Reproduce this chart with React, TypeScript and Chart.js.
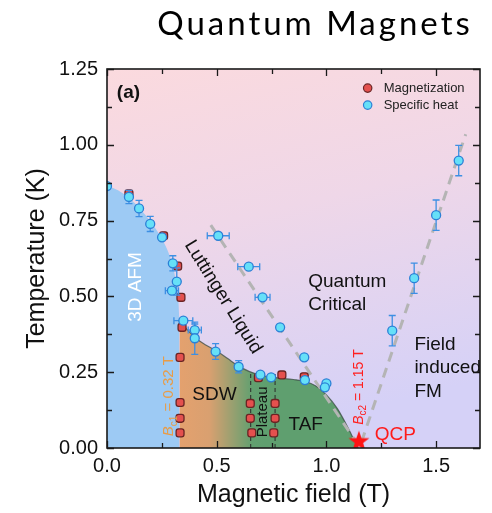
import React, { useEffect, useRef } from "react";
import { Chart, registerables } from "chart.js";

Chart.register(...registerables);

const FONT = "'Liberation Sans', Arial, Helvetica, sans-serif";
const TITLE_FONT = "Lato, 'Open Sans', sans-serif";

// ---------------- data ----------------
// Specific heat (cyan) points with error bars
const specificHeatX = [0.0, 0.10, 0.146, 0.197, 0.251, 0.30, 0.318, 0.296, 0.348, 0.40, 0.40, 0.495, 0.60, 0.699, 0.748, 0.507, 0.646, 0.709, 0.789, 0.899, 0.902, 1.0, 0.993, 1.30, 1.40, 1.50, 1.603];
const specificHeatY = [0.864, 0.828, 0.79, 0.739, 0.695, 0.609, 0.549, 0.519, 0.42, 0.389, 0.362, 0.318, 0.268, 0.242, 0.233, 0.70, 0.598, 0.497, 0.398, 0.299, 0.224, 0.213, 0.20, 0.387, 0.56, 0.768, 0.948];
const specificHeatXErr = [0, 0, 0, 0, 0, 0, 0, 0.03, 0.043, 0.03, 0, 0, 0, 0, 0, 0.05, 0.05, 0.034, 0.012, 0.012, 0.012, 0, 0, 0, 0, 0, 0];
const specificHeatYErr = [0, 0.022, 0.027, 0.025, 0, 0.025, 0.045, 0, 0, 0.02, 0.053, 0.026, 0.02, 0, 0, 0, 0, 0, 0, 0, 0, 0, 0, 0.05, 0.05, 0.05, 0.05];

// Magnetization (red) points
const magnetizationX = [0.10, 0.258, 0.322, 0.337, 0.342, 0.333, 0.333, 0.333, 0.333, 0.653, 0.653, 0.66, 0.766, 0.766, 0.76, 0.797, 0.899, 0.69];
const magnetizationY = [0.838, 0.70, 0.60, 0.497, 0.398, 0.299, 0.15, 0.098, 0.05, 0.147, 0.098, 0.05, 0.147, 0.098, 0.05, 0.241, 0.235, 0.232];

// Phase boundaries
const afmBoundaryX = [0, 0.05, 0.10, 0.15, 0.20, 0.25, 0.28, 0.30, 0.315, 0.325, 0.33];
const afmBoundaryY = [0.865, 0.85, 0.825, 0.79, 0.745, 0.69, 0.645, 0.60, 0.545, 0.49, 0.42];
const orderedBoundaryX = [0.33, 0.36, 0.40, 0.45, 0.50, 0.55, 0.60, 0.65, 0.70, 0.77, 0.85, 0.90, 0.95, 1.00, 1.05, 1.08, 1.11, 1.13, 1.145];
const orderedBoundaryY = [0.42, 0.395, 0.365, 0.34, 0.32, 0.295, 0.27, 0.252, 0.24, 0.232, 0.226, 0.22, 0.205, 0.175, 0.13, 0.092, 0.05, 0.02, 0];

// Crossover (gray dashed) lines
const luttingerLineX = [0.473, 1.14];
const luttingerLineY = [0.735, 0.015];
const fmLineX = [1.16, 1.635];
const fmLineY = [0.02, 1.035];

// Plateau edges (black dashed)
const plateauEdgesX = [0.655, 0.766];
const plateauTopY = 0.245;

// QCP
const qcpX = [1.148];
const qcpY = [0.021];

// Axes
const xMin = 0, xMax = 1.7, xTickStep = 0.25, xLabelStep = 0.5;
const yMin = 0, yMax = 1.25, yTickStep = 0.125, yLabelStep = 0.25;

// Annotations (data coordinates)
const annotations = [
  { text: "(a)", x: 0.045, y: 1.154, size: 19, weight: "bold", color: "#111", align: "left", baseline: "alphabetic", rot: 0 },
  { text: "3D AFM", x: 0.131, y: 0.531, size: 19, weight: "normal", color: "#ffffff", align: "center", baseline: "middle", rot: -90 },
  { text: "Luttinger Liquid", x: 0.529, y: 0.498, size: 19, weight: "normal", color: "#111", align: "center", baseline: "middle", rot: 58 },
  { text: "Quantum", x: 0.917, y: 0.531, size: 19, weight: "normal", color: "#111", align: "left", baseline: "alphabetic", rot: 0 },
  { text: "Critical", x: 0.917, y: 0.455, size: 19, weight: "normal", color: "#111", align: "left", baseline: "alphabetic", rot: 0 },
  { text: "Field", x: 1.401, y: 0.323, size: 19, weight: "normal", color: "#111", align: "left", baseline: "alphabetic", rot: 0 },
  { text: "induced", x: 1.401, y: 0.247, size: 19, weight: "normal", color: "#111", align: "left", baseline: "alphabetic", rot: 0 },
  { text: "FM", x: 1.401, y: 0.168, size: 19, weight: "normal", color: "#111", align: "left", baseline: "alphabetic", rot: 0 },
  { text: "QCP", x: 1.22, y: 0.026, size: 19, weight: "normal", color: "#ff1a1a", align: "left", baseline: "alphabetic", rot: 0 },
  { text: "SDW", x: 0.389, y: 0.158, size: 19, weight: "normal", color: "#111", align: "left", baseline: "alphabetic", rot: 0 },
  { text: "TAF", x: 0.827, y: 0.059, size: 19, weight: "normal", color: "#111", align: "left", baseline: "alphabetic", rot: 0 },
  { text: "Plateau", x: 0.712, y: 0.119, size: 15, weight: "normal", color: "#111", align: "center", baseline: "middle", rot: -90 },
];

const criticalFieldLabels = [
  { main: "B", sub: "c1", rest: " = 0.32 T", x: 0.276, y: 0.171, size: 15, color: "#e89c48" },
  { main: "B", sub: "c2", rest: " = 1.15 T", x: 1.143, y: 0.201, size: 14, color: "#ff2020" },
];

const legendItems = [
  { label: "Magnetization", x: 1.188, y: 1.187, fill: "#e4504e", stroke: "#6b2424" },
  { label: "Specific heat", x: 1.188, y: 1.131, fill: "#66e0f8", stroke: "#2b7fd6" },
];

const titleText = "Quantum Magnets";

// ---------------- helpers ----------------
const pts = (xs: number[], ys: number[]) => xs.map((x, i) => ({ x, y: ys[i] }));
const isMult = (v: number, step: number) => Math.abs(v / step - Math.round(v / step)) < 1e-6;

function makeStar(R: number, r: number, color: string) {
  const c = document.createElement("canvas");
  const s = Math.ceil(R * 2 + 2);
  c.width = s;
  c.height = s;
  const g = c.getContext("2d")!;
  g.beginPath();
  for (let i = 0; i < 10; i++) {
    const ang = -Math.PI / 2 + (i * Math.PI) / 5;
    const rad = i % 2 === 0 ? R : r;
    g.lineTo(s / 2 + rad * Math.cos(ang), s / 2 + rad * Math.sin(ang));
  }
  g.closePath();
  g.fillStyle = color;
  g.fill();
  return c;
}

const bgPlugin = {
  id: "bgGradient",
  beforeDatasetsDraw(chart: any) {
    const { ctx, chartArea: a } = chart;
    ctx.save();
    const g = ctx.createLinearGradient(a.left, a.top, a.left + 90, a.bottom);
    g.addColorStop(0, "#fbdade");
    g.addColorStop(0.45, "#efd7e8");
    g.addColorStop(1, "#d5d1f7");
    ctx.fillStyle = g;
    ctx.fillRect(a.left, a.top, a.width, a.height);
    ctx.restore();
  },
};

const errorBarPlugin = {
  id: "errorBars",
  beforeDatasetDraw(chart: any, args: any) {
    if (args.index !== 0) return;
    const { ctx, chartArea: a } = chart;
    const xs = chart.scales.x, ys = chart.scales.y;
    ctx.save();
    ctx.beginPath();
    ctx.rect(a.left, a.top, a.width, a.height);
    ctx.clip();
    ctx.strokeStyle = "#3d8fe3";
    ctx.lineWidth = 1.3;
    const cap = 3.5;
    specificHeatX.forEach((vx, i) => {
      const vy = specificHeatY[i];
      const px = xs.getPixelForValue(vx);
      const py = ys.getPixelForValue(vy);
      const ex = specificHeatXErr[i], ey = specificHeatYErr[i];
      ctx.beginPath();
      if (ey > 0) {
        const y1 = ys.getPixelForValue(vy + ey), y2 = ys.getPixelForValue(vy - ey);
        ctx.moveTo(px, y1); ctx.lineTo(px, y2);
        ctx.moveTo(px - cap, y1); ctx.lineTo(px + cap, y1);
        ctx.moveTo(px - cap, y2); ctx.lineTo(px + cap, y2);
      }
      if (ex > 0) {
        const x1 = xs.getPixelForValue(vx - ex), x2 = xs.getPixelForValue(vx + ex);
        ctx.moveTo(x1, py); ctx.lineTo(x2, py);
        ctx.moveTo(x1, py - cap); ctx.lineTo(x1, py + cap);
        ctx.moveTo(x2, py - cap); ctx.lineTo(x2, py + cap);
      }
      ctx.stroke();
    });
    ctx.restore();
  },
};

const framePlugin = {
  id: "frameTicks",
  afterDatasetsDraw(chart: any) {
    const { ctx, chartArea: a } = chart;
    const xs = chart.scales.x, ys = chart.scales.y;
    ctx.save();
    ctx.strokeStyle = "#1a1a1a";
    ctx.lineWidth = 1.3;
    ctx.beginPath();
    xs.ticks.forEach((t: any) => {
      const px = Math.round(xs.getPixelForValue(t.value)) + 0.5;
      const L = isMult(t.value, xLabelStep) ? 7 : 5;
      ctx.moveTo(px, a.bottom); ctx.lineTo(px, a.bottom - L);
      ctx.moveTo(px, a.top); ctx.lineTo(px, a.top + L);
    });
    ys.ticks.forEach((t: any) => {
      const py = Math.round(ys.getPixelForValue(t.value)) + 0.5;
      const L = isMult(t.value, yLabelStep) ? 7 : 5;
      ctx.moveTo(a.left, py); ctx.lineTo(a.left + L, py);
      ctx.moveTo(a.right, py); ctx.lineTo(a.right - L, py);
    });
    ctx.stroke();
    ctx.lineWidth = 1.6;
    ctx.strokeRect(a.left, a.top, a.width, a.height);
    ctx.restore();
  },
};

function drawSubLabel(ctx: CanvasRenderingContext2D, px: number, py: number, l: any) {
  ctx.save();
  ctx.translate(px, py);
  ctx.rotate(-Math.PI / 2);
  ctx.fillStyle = l.color;
  ctx.textBaseline = "alphabetic";
  ctx.textAlign = "left";
  const fMain = `italic ${l.size}px ${FONT}`;
  const fSub = `${Math.round(l.size * 0.68)}px ${FONT}`;
  const fRest = `${l.size}px ${FONT}`;
  ctx.font = fMain; const w1 = ctx.measureText(l.main).width;
  ctx.font = fSub; const w2 = ctx.measureText(l.sub).width;
  ctx.font = fRest; const w3 = ctx.measureText(l.rest).width;
  let cx = -(w1 + w2 + w3) / 2;
  const base = l.size * 0.36;
  ctx.font = fMain; ctx.fillText(l.main, cx, base); cx += w1;
  ctx.font = fSub; ctx.fillText(l.sub, cx, base + l.size * 0.25); cx += w2;
  ctx.font = fRest; ctx.fillText(l.rest, cx, base);
  ctx.restore();
}

const labelsPlugin = {
  id: "annotations",
  afterDatasetsDraw(chart: any) {
    const { ctx } = chart;
    const xs = chart.scales.x, ys = chart.scales.y;
    annotations.forEach((a) => {
      ctx.save();
      ctx.translate(xs.getPixelForValue(a.x), ys.getPixelForValue(a.y));
      ctx.rotate((a.rot * Math.PI) / 180);
      ctx.font = `${a.weight} ${a.size}px ${FONT}`;
      ctx.fillStyle = a.color;
      ctx.textAlign = a.align;
      ctx.textBaseline = a.baseline;
      ctx.fillText(a.text, 0, 0);
      ctx.restore();
    });
    criticalFieldLabels.forEach((l) => drawSubLabel(ctx, xs.getPixelForValue(l.x), ys.getPixelForValue(l.y), l));
    // legend
    legendItems.forEach((it) => {
      const px = xs.getPixelForValue(it.x), py = ys.getPixelForValue(it.y);
      ctx.save();
      ctx.beginPath();
      ctx.arc(px, py, 4.2, 0, Math.PI * 2);
      ctx.fillStyle = it.fill;
      ctx.fill();
      ctx.lineWidth = 1.2;
      ctx.strokeStyle = it.stroke;
      ctx.stroke();
      ctx.font = `13px ${FONT}`;
      ctx.fillStyle = "#222";
      ctx.textAlign = "left";
      ctx.textBaseline = "middle";
      ctx.fillText(it.label, px + 16, py);
      ctx.restore();
    });
  },
};

const titlePlugin = {
  id: "bigTitle",
  afterDraw(chart: any) {
    const { ctx } = chart;
    ctx.save();
    ctx.font = `33px ${TITLE_FONT}`;
    (ctx as any).letterSpacing = "3px";
    ctx.fillStyle = "#000";
    ctx.textAlign = "center";
    ctx.textBaseline = "alphabetic";
    ctx.fillText(titleText, 315, 35);
    ctx.restore();
  },
};

export default function App() {
  const ref = useRef<HTMLCanvasElement>(null);
  useEffect(() => {
    document.body.style.margin = "0";
    const star = makeStar(11, 4.4, "#ff1414");
    const orderedFill = (c: any) => {
      const chart = c.chart;
      if (!chart.chartArea || !chart.scales.x) return "#e29f6c";
      const xs = chart.scales.x;
      const g = chart.ctx.createLinearGradient(xs.getPixelForValue(0.33), 0, xs.getPixelForValue(0.72), 0);
      g.addColorStop(0, "#e4a16e");
      g.addColorStop(0.35, "#d9a070");
      g.addColorStop(0.85, "#62a070");
      g.addColorStop(1, "#5f9f6f");
      return g;
    };
    const chart = new Chart(ref.current as HTMLCanvasElement, {
      type: "line",
      data: {
        datasets: [
          {
            label: "Specific heat",
            data: pts(specificHeatX, specificHeatY),
            showLine: false,
            pointRadius: 4.5,
            pointBackgroundColor: "#66e0f8",
            pointBorderColor: "#2b7fd6",
            pointBorderWidth: 1.3,
            order: 2,
          },
          {
            label: "Magnetization",
            data: pts(magnetizationX, magnetizationY),
            showLine: false,
            pointStyle: "rectRounded",
            pointRadius: 4.6,
            pointBackgroundColor: "#e4504e",
            pointBorderColor: "#6b2424",
            pointBorderWidth: 1.3,
            order: 3,
          },
          {
            label: "QCP",
            data: pts(qcpX, qcpY),
            showLine: false,
            pointStyle: star,
            pointRadius: 11,
            order: 1,
          },
          {
            label: "Luttinger crossover",
            data: pts(luttingerLineX, luttingerLineY),
            borderColor: "#b4b4b4",
            borderWidth: 3,
            borderDash: [10, 7],
            pointRadius: 0,
            fill: false,
            order: 6,
          },
          {
            label: "FM crossover",
            data: pts(fmLineX, fmLineY),
            borderColor: "#b4b4b4",
            borderWidth: 3,
            borderDash: [10, 7],
            pointRadius: 0,
            fill: false,
            order: 6,
          },
          ...plateauEdgesX.map((px) => ({
            label: "Plateau edge",
            data: [{ x: px, y: 0 }, { x: px, y: plateauTopY }],
            borderColor: "#2a2a2a",
            borderWidth: 1,
            borderDash: [4, 3],
            pointRadius: 0,
            fill: false,
            order: 5,
          })),
          {
            label: "3D AFM",
            data: pts(afmBoundaryX, afmBoundaryY),
            fill: "origin",
            backgroundColor: "#9dcaf4",
            borderColor: "rgba(0,0,0,0)",
            borderWidth: 0,
            pointRadius: 0,
            cubicInterpolationMode: "monotone",
            order: 10,
          },
          {
            label: "SDW / TAF",
            data: pts(orderedBoundaryX, orderedBoundaryY),
            fill: "origin",
            backgroundColor: orderedFill,
            borderColor: "rgba(60,75,68,0.75)",
            borderWidth: 1.2,
            pointRadius: 0,
            cubicInterpolationMode: "monotone",
            order: 11,
          },
        ] as any,
      },
      options: {
        responsive: false,
        animation: false,
        devicePixelRatio: 1,
        events: [],
        layout: { padding: { top: 69, right: 10, left: 0, bottom: 0 } },
        plugins: {
          legend: { display: false },
          tooltip: { enabled: false },
          title: { display: false },
        },
        scales: {
          x: {
            type: "linear",
            min: xMin,
            max: xMax,
            grid: { display: false, drawTicks: false },
            border: { display: false },
            ticks: {
              stepSize: xTickStep,
              includeBounds: false,
              autoSkip: false,
              maxRotation: 0,
              maxTicksLimit: 30,
              padding: 6,
              color: "#111",
              font: { size: 20, family: FONT },
              callback: (v: any) => (isMult(Number(v), xLabelStep) ? Number(v).toFixed(1) : ""),
            },
            title: {
              display: true,
              text: "Magnetic field (T)",
              color: "#111",
              font: { size: 25, family: FONT },
              padding: { top: 0, bottom: 3 },
            },
            afterFit: (s: any) => { s.height = 65; },
          },
          y: {
            type: "linear",
            min: yMin,
            max: yMax,
            grid: { display: false, drawTicks: false },
            border: { display: false },
            ticks: {
              stepSize: yTickStep,
              includeBounds: false,
              autoSkip: false,
              maxTicksLimit: 30,
              padding: 9,
              color: "#111",
              font: { size: 20, family: FONT },
              callback: (v: any) => (isMult(Number(v), yLabelStep) ? Number(v).toFixed(2) : ""),
            },
            title: {
              display: true,
              text: "Temperature (K)",
              color: "#111",
              font: { size: 25, family: FONT },
              padding: { top: 22, bottom: 0 },
            },
            afterFit: (s: any) => { s.width = 107; },
          },
        },
      } as any,
      plugins: [bgPlugin, errorBarPlugin, framePlugin, labelsPlugin, titlePlugin],
    });
    return () => chart.destroy();
  }, []);
  return (
    <div style={{ width: 492, height: 513 }}>
      <canvas ref={ref} width={492} height={513} style={{ display: "block", width: 492, height: 513 }} />
    </div>
  );
}
